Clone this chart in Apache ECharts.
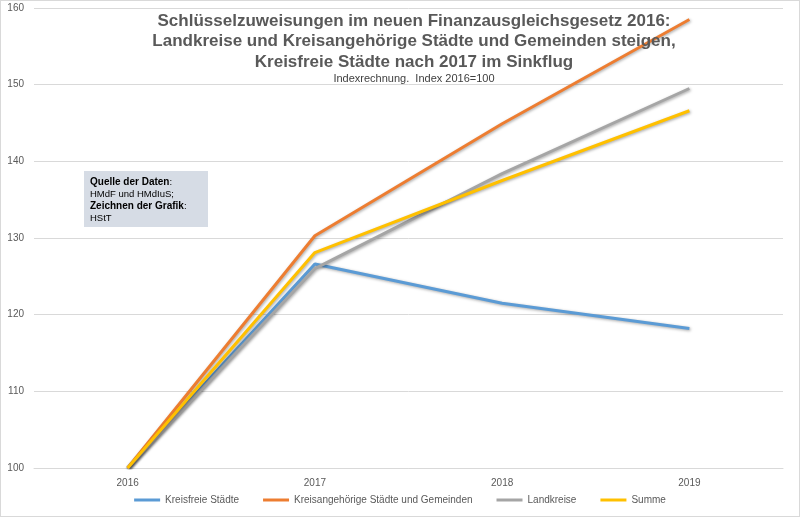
<!DOCTYPE html>
<html><head><meta charset="utf-8">
<script src="https://cdn.jsdelivr.net/npm/echarts@6/dist/echarts.min.js"></script>
<style>html,body{margin:0;padding:0;background:#fff}#c{width:800px;height:517px;box-sizing:border-box;border:1px solid #d9d9d9}</style>
</head><body><div id="c"></div>
<script>
// Index 2016 = 100
const years = ['2016', '2017', '2018', '2019'];
const kreisfrei = [100, 126.6, 121.5, 118.2];
const kreisangehoerig = [100, 130.3, 144.9, 158.5];
const landkreise = [100, 126.0, 138.4, 149.5];
const summe = [100, 128.1, 137.5, 146.6];

const chart = echarts.init(document.getElementById('c'));
function line(name, data, color) {
  return {
    name: name, type: 'line', data: data, symbol: 'none',
    lineStyle: { color: color, width: 3, shadowColor: 'rgba(0,0,0,0.35)', shadowBlur: 3, shadowOffsetX: 1, shadowOffsetY: 1 },
    itemStyle: { color: color }
  };
}
chart.setOption({
  animation: false,
  textStyle: { fontFamily: 'Liberation Sans, Arial, sans-serif' },
  grid: { left: 33, right: 16, top: 7, bottom: 48 },
  title: {
    text: 'Schlüsselzuweisungen im neuen Finanzausgleichsgesetz 2016:\nLandkreise und Kreisangehörige Städte und Gemeinden steigen,\nKreisfreie Städte nach 2017 im Sinkflug',
    subtext: 'Indexrechnung.  Index 2016=100',
    left: 408, top: 5, textAlign: 'center', itemGap: 1,
    textStyle: { fontSize: 17, fontWeight: 'bold', color: '#595959', lineHeight: 20.5 },
    subtextStyle: { fontSize: 11, color: '#404040' }
  },
  legend: {
    bottom: 6, left: 'center', itemWidth: 26, itemHeight: 3, itemGap: 24, icon: 'rect',
    textStyle: { fontSize: 10, color: '#595959' }
  },
  xAxis: {
    type: 'category', data: years, boundaryGap: true,
    axisLine: { lineStyle: { color: '#d9d9d9' } }, axisTick: { show: false },
    axisLabel: { color: '#595959', fontSize: 10, margin: 10 }
  },
  yAxis: {
    type: 'value', min: 100, max: 160, interval: 10,
    axisLine: { show: false }, axisTick: { show: false },
    axisLabel: { color: '#595959', fontSize: 10, margin: 10 },
    splitLine: { lineStyle: { color: '#d9d9d9' } }
  },
  graphic: [{
    type: 'group', left: 83, top: 170,
    children: [
      { type: 'rect', shape: { width: 124, height: 56 }, style: { fill: '#d6dce5' } },
      { type: 'text', left: 6, top: 5, style: {
        rich: { b: { fontWeight: 'bold', fontSize: 10, fill: '#000' }, n: { fontSize: 9.5, fill: '#000' } },
        text: '{b|Quelle der Daten}{n|:}\n{n|HMdF und HMdIuS;}\n{b|Zeichnen der Grafik}{n|:}\n{n|HStT}',
        lineHeight: 12, fontFamily: 'Liberation Sans, Arial, sans-serif'
      } }
    ]
  }],
  series: [
    line('Kreisfreie Städte', kreisfrei, '#5b9bd5'),
    line('Kreisangehörige Städte und Gemeinden', kreisangehoerig, '#ed7d31'),
    line('Landkreise', landkreise, '#a5a5a5'),
    line('Summe', summe, '#ffc000')
  ]
});
</script></body></html>
